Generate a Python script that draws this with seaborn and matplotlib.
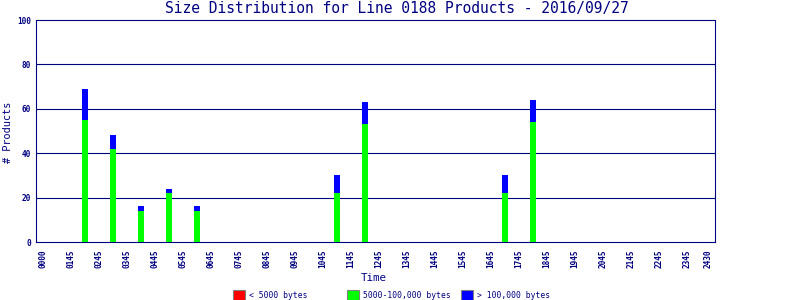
import matplotlib
matplotlib.use("Agg")
import matplotlib.pyplot as plt
import seaborn as sns
import pandas as pd
from matplotlib.patches import Rectangle

# ---- data ----
hours = [2.25, 3.25, 4.25, 5.25, 6.25, 11.25, 12.25, 17.25, 18.25]
small = [0, 0, 0, 0, 0, 0, 0, 0, 0]            # < 5000 bytes
medium = [55, 42, 14, 22, 14, 22, 53, 22, 54]  # 5000-100,000 bytes
large = [14, 6, 2, 2, 2, 8, 10, 8, 10]         # > 100,000 bytes
tick_pos = [0.75] + [h + 0.75 for h in range(1, 24)] + [24.5]
tick_labels = ["0000", "0145", "0245", "0345", "0445", "0545", "0645", "0745",
               "0845", "0945", "1045", "1145", "1245", "1345", "1445", "1545",
               "1645", "1745", "1845", "1945", "2045", "2145", "2245", "2345",
               "2430"]
series_names = ["< 5000 bytes", "5000-100,000 bytes", "> 100,000 bytes"]
series_colors = ["#ff0000", "#00ff00", "#0000ff"]

NAVY = "#000080"
MONO = "DejaVu Sans Mono"

sns.set_style("white")
plt.rcParams["font.family"] = ["DejaVu Sans Mono", "DejaVu Sans"]

df = pd.DataFrame({"hour": hours, "small": small, "medium": medium, "large": large})
df["total"] = df["small"] + df["medium"] + df["large"]
df["sm"] = df["small"] + df["medium"]

fig = plt.figure(figsize=(8, 3), dpi=100)
ax = fig.add_axes([36 / 800, 58 / 300, (715 - 36) / 800, (242 - 20) / 300])

for col, c in [("total", series_colors[2]), ("sm", series_colors[1]), ("small", series_colors[0])]:
    sns.barplot(data=df, x="hour", y=col, color=c, native_scale=True, width=0.22,
                saturation=1, linewidth=0, ax=ax, zorder=3)

ax.set_xlim(0.5, 24.75)
ax.set_ylim(0, 100)
ax.set_yticks([0, 20, 40, 60, 80, 100])
ax.set_yticklabels(["0", "20", "40", "60", "80", "100"], fontsize=5.6,
                   fontweight="bold", color=NAVY, family=MONO)
ax.set_xticks(tick_pos)
ax.set_xticklabels(tick_labels, rotation=90, fontsize=5.6, color=NAVY,
                   family=MONO, va="top", fontweight="bold")
ax.tick_params(axis="both", length=0)
ax.tick_params(axis="x", pad=5.5)
ax.tick_params(axis="y", pad=3.5)
for y in [20, 40, 60, 80]:
    ax.axhline(y, color=NAVY, lw=0.8, zorder=1)
for s in ax.spines.values():
    s.set_color(NAVY)
    s.set_linewidth(0.8)
    s.set_visible(True)
ax.set_xlabel("")
ax.set_ylabel("")

fig.text(397 / 800, 1 - 9 / 300, "Size Distribution for Line 0188 Products - 2016/09/27",
         ha="center", va="center", fontsize=10.5, color=NAVY, family=MONO)
fig.text(8 / 800, 1 - 132 / 300, "# Products", rotation=90, ha="center", va="center",
         fontsize=7.4, color=NAVY, family=MONO)
fig.text(374 / 800, 1 - 278 / 300, "Time", ha="center", va="center",
         fontsize=7.8, color=NAVY, family=MONO)

# legend
box_x = [233, 347, 461]
for bx, name, c in zip(box_x, series_names, series_colors):
    fig.patches.append(Rectangle((bx / 800, 1 - 301 / 300), 12 / 800, 11 / 300,
                                 transform=fig.transFigure, facecolor=c,
                                 edgecolor="#808080", lw=0.8, figure=fig))
    fig.text((bx + 16) / 800, 1 - 295.5 / 300, name, ha="left", va="center",
             fontsize=5.8, color=NAVY, family=MONO)

fig.savefig("out.png", dpi=100, facecolor="white")
